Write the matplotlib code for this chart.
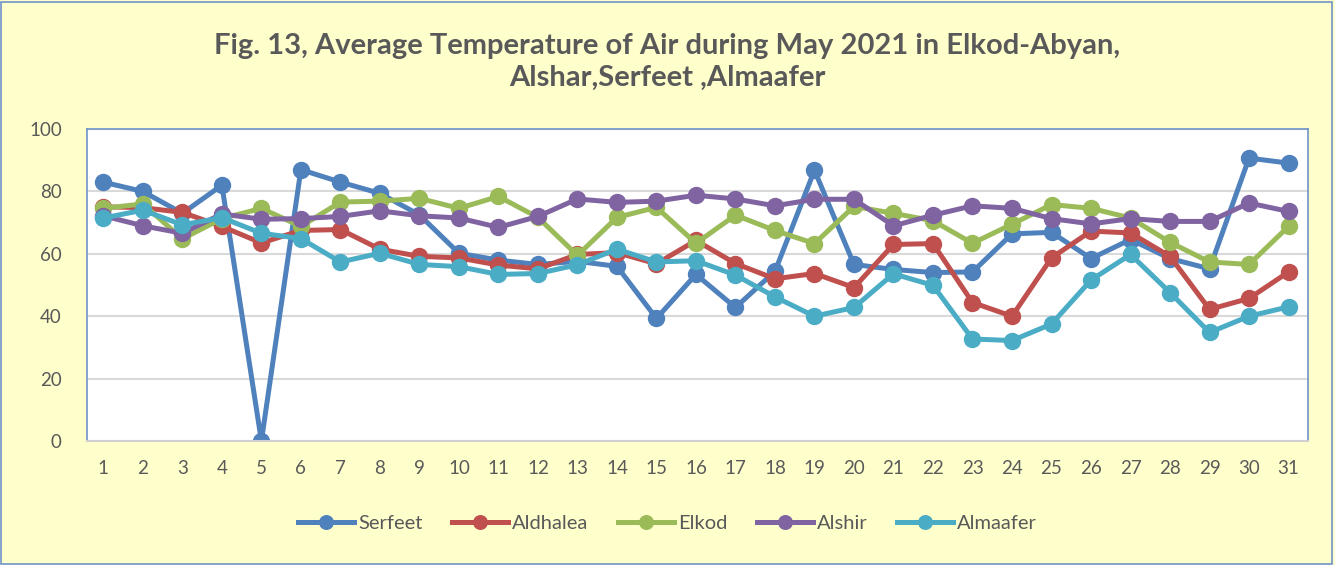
import numpy as np
import matplotlib.pyplot as plt
from matplotlib.patches import Rectangle

# days of May 2021
days = list(range(1, 32))

serfeet = [83, 80, 73, 82, 0, 87, 83, 79.4, 72.5, 60.2, 58, 56.6, 57.6, 56, 39.3, 53.4,
           42.8, 54.4, 86.8, 56.6, 55, 54, 54.2, 66.4, 66.9, 58.5, 64.6, 58.5, 55.2, 90.7, 89.1]
aldhalea = [75.1, 74.8, 73.3, 68.8, 63.5, 67.5, 67.8, 61.5, 59.2, 58.7, 56.4, 55.2, 59.8, 60.4, 56.8, 64.3,
            56.9, 52, 53.7, 49.2, 63, 63.3, 44.4, 40, 58.7, 67.3, 66.7, 59.2, 42.2, 45.7, 54.2]
elkod = [74.6, 76, 64.8, 71.3, 74.6, 68.8, 76.6, 76.9, 77.8, 74.6, 78.4, 71.7, 59.5, 71.7, 74.9, 63.4,
         72.4, 67.5, 63.3, 75.2, 73, 70.6, 63.4, 69.5, 75.8, 74.6, 71.5, 63.7, 57.4, 56.6, 68.8]
alshir = [72.2, 69, 66.6, 72.8, 71.1, 71.3, 72, 73.8, 72.2, 71.5, 68.5, 72, 77.6, 76.5, 76.9, 78.8,
          77.6, 75.4, 77.5, 77.5, 69, 72.4, 75.4, 74.6, 71.3, 69.6, 71.3, 70.4, 70.4, 76.3, 73.6]
almaafer = [71.5, 74, 69.3, 71.6, 66.6, 64.9, 57.4, 60.2, 56.6, 55.9, 53.4, 53.7, 56.5, 61.5, 57.4, 57.8,
            53.2, 46.2, 40, 42.8, 53.6, 49.9, 32.7, 32.2, 37.5, 51.6, 59.8, 47.6, 34.8, 40, 43]

series = [("Serfeet", serfeet, "#4F81BD"),
          ("Aldhalea", aldhalea, "#C0504D"),
          ("Elkod", elkod, "#9BBB59"),
          ("Alshir", alshir, "#8064A2"),
          ("Almaafer", almaafer, "#4BACC6")]

bg = "#FFFFCC"
txt = "#595959"
plt.rcParams['font.family'] = ['Lato', 'DejaVu Sans']

fig = plt.figure(figsize=(13.35, 5.65), dpi=100, facecolor=bg)
fig.patches.append(Rectangle((0.001, 0.002), 0.997, 0.995, transform=fig.transFigure,
                             fill=False, edgecolor="#6F93C8", linewidth=1.2))
ax = fig.add_axes([0.065, 0.2195, 0.915, 0.552])
ax.set_facecolor("white")

for name, vals, col in series:
    ax.plot(days, vals, color=col, lw=3.6, marker="o", ms=11.5, label=name, solid_joinstyle="round")

ax.set_xlim(0.58, 31.5)
ax.set_ylim(0, 100)
ax.set_yticks(np.arange(0, 101, 20))
ax.set_xticks(days)
ax.grid(axis="y", color="#D9D9D9", lw=1.5)
ax.set_axisbelow(True)
ax.tick_params(length=0, labelsize=13.5, labelcolor=txt)
ax.tick_params(axis="x", pad=14)
ax.tick_params(axis="y", pad=18)
for s in ["left", "top", "right"]:
    ax.spines[s].set_color("#6F93C8")
    ax.spines[s].set_linewidth(1.2)
ax.spines["bottom"].set_color("#D0D0D0")
ax.spines["bottom"].set_linewidth(1.5)

fig.text(0.5, 0.89, "Fig. 13, Average Temperature of Air during May 2021 in Elkod-Abyan,\nAlshar,Serfeet ,Almaafer",
         ha="center", va="center", fontsize=21, fontweight="bold", color=txt, linespacing=1.3)

fig.legend(loc="center", bbox_to_anchor=(0.5, 0.074), ncol=5, frameon=False,
           fontsize=14.5, labelcolor=txt, handlelength=2.8, columnspacing=1.45, handletextpad=0.2,
           markerscale=0.85)

fig.savefig("out.png", dpi=100, facecolor=bg)
